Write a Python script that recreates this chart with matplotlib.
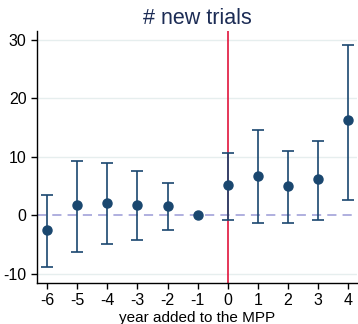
import matplotlib
matplotlib.use("Agg")
import matplotlib.pyplot as plt
import numpy as np

plt.rcParams["font.family"] = ["Liberation Sans", "DejaVu Sans"]
plt.rcParams["axes.unicode_minus"] = False

years = [-6, -5, -4, -3, -2, -1, 0, 1, 2, 3, 4]
coef = [-2.5, 1.7, 2.1, 1.8, 1.6, 0.0, 5.1, 6.7, 5.0, 6.2, 16.2]
lower = [-8.9, -6.3, -5.0, -4.2, -2.6, 0.0, -0.9, -1.3, -1.3, -0.8, 2.6]
upper = [3.4, 9.3, 8.9, 7.6, 5.5, 0.0, 10.7, 14.6, 11.0, 12.7, 29.2]
yticks = [-10, 0, 10, 20, 30]

navy = "#1a476f"
fig = plt.figure(figsize=(3.58, 3.24), dpi=100)
ax = fig.add_axes([0.103, 0.127, 0.895, 0.777])

for t in [-10, 10, 20, 30]:
    ax.axhline(t, color="#e6eeee", lw=1, zorder=0)
ax.axhline(0, color="#9a9ad6", lw=1.1, ls=(0, (6, 4)), zorder=1)
ax.axvline(0, color="#e0143c", lw=1.2, zorder=2)

y = np.array(coef)
lo = np.array(lower)
hi = np.array(upper)
x = np.array(years)
mask = x != -1
ax.errorbar(x[mask], y[mask], yerr=[y[mask] - lo[mask], hi[mask] - y[mask]],
            fmt="none", ecolor=navy, elinewidth=1.2, capsize=4, capthick=1.2, zorder=3)
ax.plot(x, y, "o", color=navy, ms=6.5, zorder=4)

ax.set_xlim(-6.34, 4.3)
ax.set_ylim(-11.6, 31.5)
ax.set_xticks(years)
ax.set_xticklabels([str(v) for v in years])
ax.set_yticks(yticks)
ax.set_yticklabels([str(v) for v in yticks])
ax.tick_params(labelsize=11.5, length=4, width=1, color="black")
for s in ["top", "right"]:
    ax.spines[s].set_visible(False)
for s in ["left", "bottom"]:
    ax.spines[s].set_color("black")
    ax.spines[s].set_linewidth(1)
ax.set_title("# new trials", fontsize=15.5, color="#1c2c55", pad=5)
ax.set_xlabel("year added to the MPP", fontsize=11, labelpad=2)

fig.savefig("out.png", dpi=100)
